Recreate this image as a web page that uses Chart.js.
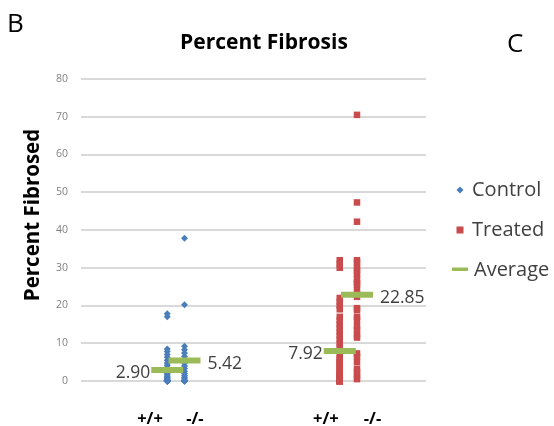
<!DOCTYPE html>
<html>
<head>
<meta charset="utf-8">
<script src="https://cdn.jsdelivr.net/npm/chart.js@4/dist/chart.umd.min.js"></script>
<style>
  html, body { margin: 0; padding: 0; background: #fff; }
  #wrap { width: 554px; height: 426px; }
</style>
</head>
<body>
<div id="wrap"><canvas id="c" width="554" height="426"></canvas></div>
<script>
// Genotype groups along the x axis
const genotypes = ['+/+', '-/-', '+/+', '-/-'];
// x positions of each group's column (control +/+, control -/-, treated +/+, treated -/-)
const groupX = [5, 6, 15, 16];
// x positions of the genotype tick labels
const labelX = [4, 6.6, 14.2, 16.9];

// Percent fibrosed, per animal
const controlWT = [17.8, 17.0, 8.5, 7.8, 7.0, 6.3, 5.5, 4.8, 4.2, 3.6, 3.0, 2.5, 2.0, 1.6, 1.2, 0.9,
  0.6, 0.4, 0.2, 0.1, 0, 0, 0, 0, 0, 0, 0, 0, 0, 0, 0, 0, 0];
const controlKO = [37.8, 20.2, 9.2, 8.3, 7.4, 6.5, 5.6, 4.8, 4.0, 3.3, 2.6, 2.0, 1.4, 0.9, 0.5, 0.2,
  0, 0, 0, 0, 0];
const treatedWT = [32, 31, 30, 22, 21, 20, 19, 17, 16, 15, 14, 13, 12, 11, 10, 9, 8, 7, 6, 5, 4, 3, 2, 1,
  0, 0, 0, 0, 0, 0, 0, 0.3, 0.5, 0.8, 1.2, 1.5, 2.2, 2.5, 3.5, 4.5, 5.5, 0, 0, 0];
const treatedKO = [70.5, 47.3, 42.2, 32, 31.3, 30, 29.2, 28.3, 27, 26, 25.5, 24, 23, 22.3, 19.3, 18.8,
  17, 16.2, 14.5, 13.5, 12.2, 11.5, 7.3, 6.5, 5, 3.2, 2.3, 1.3, 0.5];
// Group averages
const averages = [2.90, 5.42, 7.92, 22.85];

const yTicks = [0, 10, 20, 30, 40, 50, 60, 70, 80];

const BLUE = '#4a7ebb', RED = '#c94b4b', GREEN = '#9bbb59', TEXT = '#404040';
const FONT = '"Open Sans", sans-serif';

const toPts = (vals, x) => vals.map(y => ({ x, y }));

const overlay = {
  id: 'overlay',
  afterDatasetsDraw(chart) {
    const ctx = chart.ctx;
    const xs = chart.scales.x, ys = chart.scales.y;
    ctx.save();
    // average value labels
    ctx.fillStyle = TEXT;
    ctx.font = '17.5px ' + FONT;
    ctx.textBaseline = 'middle';
    averages.forEach((v, i) => {
      const px = xs.getPixelForValue(groupX[i]);
      const py = ys.getPixelForValue(v) + 3;
      if (i % 2 === 0) {
        ctx.textAlign = 'right';
        ctx.fillText(v.toFixed(2), px - 17, py);
      } else {
        ctx.textAlign = 'left';
        ctx.fillText(v.toFixed(2), px + 23, py);
      }
    });
    ctx.restore();
  },
  afterDraw(chart) {
    const ctx = chart.ctx;
    ctx.save();
    ctx.fillStyle = '#000';
    ctx.textBaseline = 'middle';
    // panel letters
    ctx.font = '26px ' + FONT;
    ctx.textAlign = 'left';
    ctx.fillText('B', 7, 25);
    ctx.fillText('C', 507, 45);
    // title
    ctx.font = 'bold 21px ' + FONT;
    ctx.textAlign = 'center';
    ctx.fillText('Percent Fibrosis', 264, 43);
    // y axis title
    ctx.save();
    ctx.translate(33, 215);
    ctx.rotate(-Math.PI / 2);
    ctx.font = 'bold 20.5px ' + FONT;
    ctx.fillText('Percent Fibrosed', 0, 0);
    ctx.restore();
    // legend
    const lx = 460;
    ctx.font = '20px ' + FONT;
    ctx.textAlign = 'left';
    ctx.fillStyle = BLUE;
    ctx.beginPath();
    ctx.moveTo(lx, 186.5); ctx.lineTo(lx + 3.5, 190); ctx.lineTo(lx, 193.5); ctx.lineTo(lx - 3.5, 190);
    ctx.closePath(); ctx.fill();
    ctx.fillStyle = RED;
    ctx.fillRect(lx - 3.5, 226.5, 7, 7);
    ctx.fillStyle = GREEN;
    ctx.fillRect(lx - 8, 267.5, 16, 3.5);
    ctx.fillStyle = TEXT;
    ctx.fillText('Control', 472, 190);
    ctx.fillText('Treated', 472, 230);
    ctx.fillText('Average', 474, 270);
    ctx.restore();
  }
};

new Chart(document.getElementById('c'), {
  type: 'scatter',
  data: {
    datasets: [
      {
        label: 'Average',
        data: averages.map((v, i) => ({ x: groupX[i], y: v })),
        pointStyle: 'line', pointRadius: 16, pointBorderWidth: 6,
        borderColor: GREEN, backgroundColor: GREEN, order: 0
      },
      {
        label: 'Control',
        data: toPts(controlWT, groupX[0]).concat(toPts(controlKO, groupX[1])),
        pointStyle: 'rectRot', pointRadius: 3.5, pointBorderWidth: 0,
        backgroundColor: BLUE, borderColor: BLUE, order: 1
      },
      {
        label: 'Treated',
        data: toPts(treatedWT, groupX[2]).concat(toPts(treatedKO, groupX[3])),
        pointStyle: 'rect', pointRadius: 4.6, pointBorderWidth: 0,
        backgroundColor: RED, borderColor: RED, order: 2
      }
    ]
  },
  options: {
    responsive: false,
    devicePixelRatio: 1,
    animation: false,
    clip: false,
    layout: { padding: { left: 0, right: 128, top: 79, bottom: 0 } },
    plugins: { legend: { display: false }, tooltip: { enabled: false }, title: { display: false } },
    scales: {
      x: {
        type: 'linear', min: 0, max: 20,
        grid: { display: false }, border: { display: false },
        afterBuildTicks: axis => { axis.ticks = labelX.map(v => ({ value: v })); },
        afterFit: axis => { axis.height = 45; },
        ticks: {
          autoSkip: false, maxRotation: 0, padding: 20,
          color: '#000', font: { family: FONT, size: 16.5, weight: 'bold' },
          callback: (v, i) => genotypes[i]
        }
      },
      y: {
        min: 0, max: 80,
        afterBuildTicks: axis => { axis.ticks = yTicks.map(v => ({ value: v })); },
        afterFit: axis => { axis.width = 81; },
        grid: { color: '#d9d9d9', lineWidth: 2, drawTicks: false },
        border: { display: false },
        ticks: { color: '#7f7f7f', padding: 13, font: { family: FONT, size: 10.5 } }
      }
    }
  },
  plugins: [overlay]
});
</script>
</body>
</html>
